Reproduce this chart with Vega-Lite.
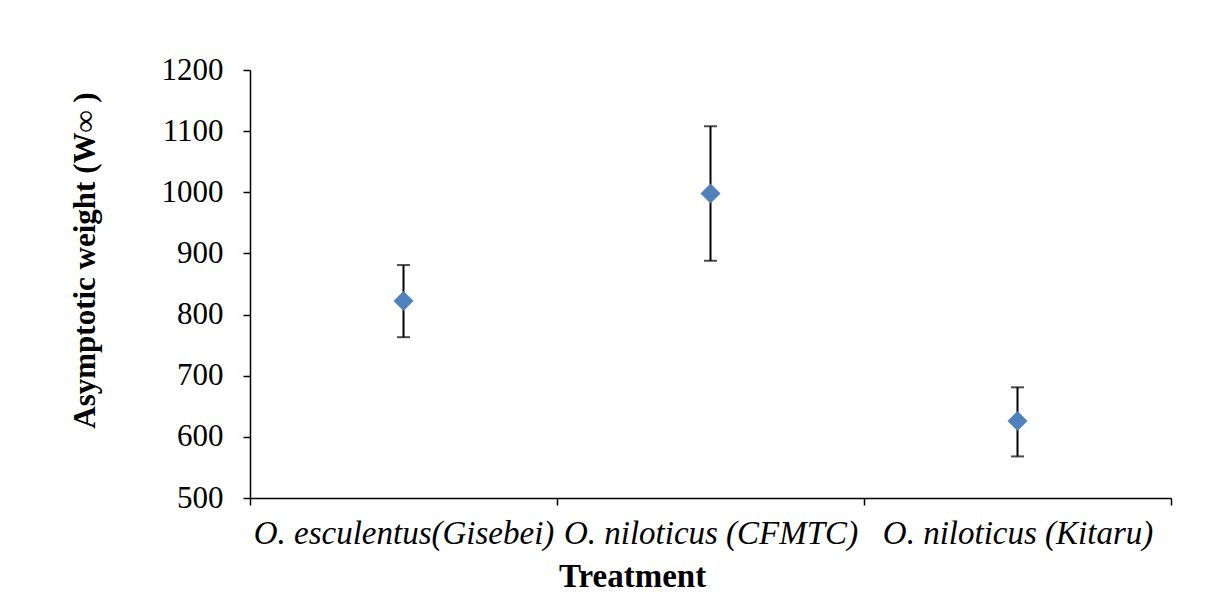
{
  "$schema": "https://vega.github.io/schema/vega-lite/v6.json",
  "autosize": {"type": "none"},
  "padding": {"left": 250, "top": 70, "right": 61, "bottom": 99},
  "width": 921,
  "height": 428,
  "background": "white",
  "config": {
    "view": {"stroke": null},
    "font": "Liberation Serif"
  },
  "data": {
    "values": [
      {"treatment": "O. esculentus(Gisebei)", "mean": 822, "lower": 763, "upper": 881},
      {"treatment": "O. niloticus (CFMTC)", "mean": 998, "lower": 888, "upper": 1108},
      {"treatment": "O. niloticus (Kitaru)", "mean": 626, "lower": 568, "upper": 681}
    ]
  },
  "encoding": {
    "x": {
      "field": "treatment",
      "type": "nominal",
      "sort": null,
      "scale": {"paddingInner": 0, "paddingOuter": 0},
      "axis": {
        "title": "Treatment",
        "titleFont": "Liberation Serif",
        "titleFontSize": 33,
        "titleFontWeight": "bold",
        "titleColor": "black",
        "titlePadding": 10,
        "titleX": 382,
        "titleAlign": "center",
        "labelAngle": 0,
        "labelFont": "Liberation Serif",
        "labelFontSize": 33,
        "labelFontStyle": "italic",
        "labelColor": "black",
        "labelPadding": 12,
        "labelLimit": 0,
        "tickBand": "extent",
        "tickSize": 7,
        "tickColor": "black",
        "tickWidth": 1.5,
        "domainColor": "black",
        "domainWidth": 1.5,
        "grid": false
      }
    }
  },
  "layer": [
    {
      "mark": {"type": "rule", "color": "black", "strokeWidth": 2},
      "encoding": {
        "y": {
          "field": "lower",
          "type": "quantitative",
          "scale": {"domain": [500, 1200], "nice": false, "zero": false},
          "axis": {
            "title": "Asymptotic weight (W∞ )",
            "titleFont": "Liberation Serif",
            "titleFontSize": 31,
            "titleFontWeight": "bold",
            "titleColor": "black",
            "titlePadding": 60,
            "titleY": 190,
            "titleAlign": "center",
            "values": [500, 600, 700, 800, 900, 1000, 1100, 1200],
            "format": "d",
            "labelFont": "Liberation Serif",
            "labelFontSize": 31,
            "labelColor": "black",
            "labelPadding": 20,
            "tickSize": 7,
            "tickColor": "black",
            "tickWidth": 1.5,
            "domainColor": "black",
            "domainWidth": 1.5,
            "grid": false
          }
        },
        "y2": {"field": "upper"}
      }
    },
    {
      "mark": {"type": "tick", "color": "black", "thickness": 2, "size": 13, "orient": "horizontal"},
      "encoding": {"y": {"field": "upper", "type": "quantitative"}}
    },
    {
      "mark": {"type": "tick", "color": "black", "thickness": 2, "size": 13, "orient": "horizontal"},
      "encoding": {"y": {"field": "lower", "type": "quantitative"}}
    },
    {
      "mark": {"type": "point", "shape": "diamond", "filled": true, "size": 400, "color": "#4F81BD", "opacity": 1},
      "encoding": {"y": {"field": "mean", "type": "quantitative"}}
    }
  ]
}
